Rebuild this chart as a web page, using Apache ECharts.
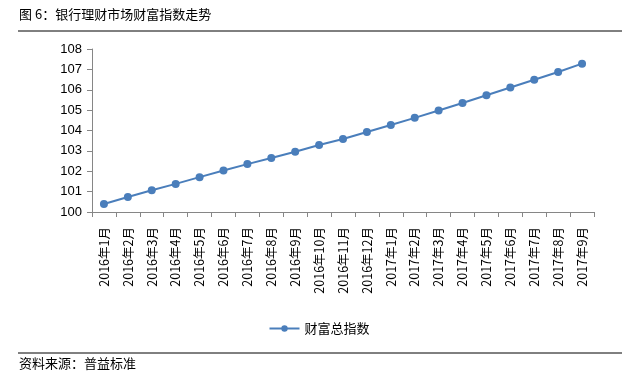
<!DOCTYPE html>
<html><head><meta charset="utf-8">
<script src="https://cdn.jsdelivr.net/npm/echarts@6/dist/echarts.min.js"></script>
<style>html,body{margin:0;padding:0;background:#fff}#c{width:638px;height:382px}</style>
</head><body><div id="c"></div>
<script>
const categories = ['2016年1月','2016年2月','2016年3月','2016年4月','2016年5月','2016年6月','2016年7月','2016年8月','2016年9月','2016年10月','2016年11月','2016年12月','2017年1月','2017年2月','2017年3月','2017年4月','2017年5月','2017年6月','2017年7月','2017年8月','2017年9月'];
const wealthIndex = [100.39,100.74,101.07,101.38,101.71,102.04,102.35,102.65,102.96,103.29,103.58,103.93,104.27,104.62,104.98,105.35,105.73,106.11,106.49,106.87,107.28];
const seriesName = '财富总指数';
const titleText = '图 6：银行理财市场财富指数走势';
const sourceText = '资料来源：普益标准';

const chart = echarts.init(document.getElementById('c'));
const cjk = '"Noto Sans CJK SC", sans-serif';
chart.setOption({
  animation: false,
  backgroundColor: '#fff',
  grid: {left: 92, right: 44, top: 49, bottom: 170, containLabel: false},
  legend: {
    data: [seriesName], left: 'center', top: 317, itemWidth: 30, itemHeight: 8,
    textStyle: {fontFamily: cjk, fontSize: 13, color: '#000'}
  },
  xAxis: {
    type: 'category', data: categories, boundaryGap: true,
    axisLine: {lineStyle: {color: '#868686'}},
    axisTick: {show: true, alignWithLabel: false, length: 5, lineStyle: {color: '#868686'}},
    axisLabel: {rotate: 90, interval: 0, margin: 15, fontFamily: cjk, fontSize: 12.5, color: '#000'}
  },
  yAxis: {
    type: 'value', min: 100, max: 108, interval: 1,
    axisLine: {show: true, lineStyle: {color: '#868686'}},
    axisTick: {show: true, length: 5, lineStyle: {color: '#868686'}},
    splitLine: {show: false},
    axisLabel: {margin: 10, fontFamily: '"Liberation Sans", Arial, sans-serif', fontSize: 13, color: '#000'}
  },
  series: [{
    name: seriesName, type: 'line', data: wealthIndex,
    symbol: 'circle', symbolSize: 8,
    lineStyle: {color: '#4A7EBB', width: 2},
    itemStyle: {color: '#4A7EBB'}
  }],
  graphic: [
    {type: 'text', left: 19, top: 8, style: {text: titleText, font: '13px "Noto Sans CJK SC"', fill: '#000'}},
    {type: 'line', shape: {x1: 18, y1: 31, x2: 622, y2: 31}, style: {stroke: '#000', lineWidth: 1}},
    {type: 'line', shape: {x1: 18, y1: 353, x2: 622, y2: 353}, style: {stroke: '#000', lineWidth: 1}},
    {type: 'text', left: 19, top: 357, style: {text: sourceText, font: '13px "Noto Sans CJK SC"', fill: '#000'}}
  ]
});
</script></body></html>
